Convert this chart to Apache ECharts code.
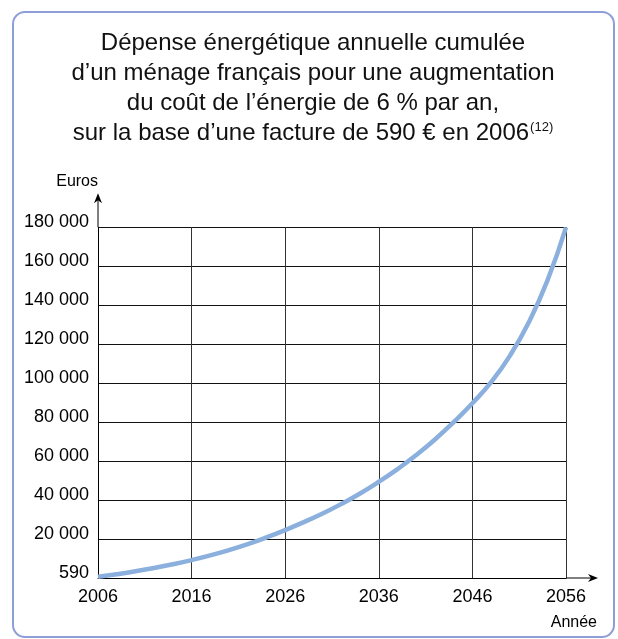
<!DOCTYPE html>
<html>
<head>
<meta charset="utf-8">
<script src="https://cdn.jsdelivr.net/npm/echarts@6/dist/echarts.min.js"></script>
<style>
  html, body { margin: 0; padding: 0; background: #fff; }
  #chart { width: 618px; height: 639px; }
</style>
</head>
<body>
<div id="chart"></div>
<script>
// Cumulative yearly energy spending of a household (euros)
const years = [2006, 2008, 2010, 2012, 2014, 2016, 2018, 2020, 2022, 2024, 2026,
               2028, 2030, 2032, 2034, 2036, 2038, 2040, 2042, 2044, 2046,
               2048, 2050, 2052, 2054, 2056];
const cumulative = [590, 1940, 3450, 5150, 7060, 9200, 11600, 14300, 17350, 20800, 24600,
                    28700, 33100, 38000, 43400, 49400, 55900, 63100, 71100, 80000, 89700,
                    100500, 114000, 131000, 152500, 180000];

const yTickLabels = ['590', '20 000', '40 000', '60 000', '80 000', '100 000',
                     '120 000', '140 000', '160 000', '180 000'];
const xTickLabels = ['2006', '2016', '2026', '2036', '2046', '2056'];

const titleLines = [
  'Dépense énergétique annuelle cumulée',
  'd’un ménage français pour une augmentation',
  'du coût de l’énergie de 6 % par an,',
  'sur la base d’une facture de 590 € en 2006{sup|(12)}'
];

const FONT = '"Liberation Sans", Arial, Helvetica, sans-serif';

const chart = echarts.init(document.getElementById('chart'), null, { renderer: 'canvas' });

const option = {
  backgroundColor: '#ffffff',
  animation: false,
  grid: { left: 98, right: 52, top: 227.3, bottom: 61, show: false },
  xAxis: {
    type: 'value',
    min: 2006,
    max: 2056,
    interval: 10,
    axisLine: { show: true, lineStyle: { color: '#000', width: 1 } },
    axisTick: { show: false },
    splitLine: { show: true, lineStyle: { color: '#333', width: 1 } },
    axisLabel: {
      margin: 10,
      fontFamily: FONT,
      fontSize: 18,
      color: '#000',
      formatter: (v) => xTickLabels[Math.round((v - 2006) / 10)]
    }
  },
  yAxis: {
    type: 'value',
    min: 0,
    max: 180000,
    interval: 20000,
    name: 'Euros',
    nameLocation: 'end',
    nameGap: 38,
    nameTextStyle: { fontFamily: FONT, fontSize: 16, color: '#000', align: 'right' },
    axisLine: { show: true, lineStyle: { color: '#000', width: 1 } },
    axisTick: { show: false },
    splitLine: { show: true, lineStyle: { color: '#111', width: 1 } },
    axisLabel: {
      margin: 9,
      fontFamily: FONT,
      fontSize: 18,
      lineHeight: 10,
      color: '#000',
      verticalAlign: 'bottom',
      formatter: (v) => yTickLabels[Math.round(v / 20000)]
    }
  },
  series: [{
    type: 'line',
    data: years.map((y, i) => [y, cumulative[i]]),
    smooth: 0.5,
    symbol: 'none',
    lineStyle: { color: '#8cb0de', width: 4.5 },
    z: 5
  }]
};

chart.setOption(option);

// Decorations: rounded frame, title, axis arrows extending past the plot, axis name
const origin = chart.convertToPixel({ gridIndex: 0 }, [2006, 0]);
const topLeft = chart.convertToPixel({ gridIndex: 0 }, [2006, 180000]);
const rightEnd = chart.convertToPixel({ gridIndex: 0 }, [2056, 0]);
const yTip = topLeft[1] - 34;
const xTip = rightEnd[0] + 32;

chart.setOption({
  graphic: [
    {
      type: 'rect',
      shape: { x: 13, y: 12, width: 601, height: 625, r: 12 },
      style: { fill: 'none', stroke: '#8e9fd8', lineWidth: 2 },
      silent: true
    },
    {
      type: 'text',
      x: 313,
      y: 28,
      style: {
        text: titleLines.join('\n'),
        fontFamily: FONT,
        fontSize: 24,
        lineHeight: 30,
        fill: '#111',
        align: 'center',
        verticalAlign: 'top',
        rich: {
          sup: { fontFamily: FONT, fontSize: 13, lineHeight: 13, verticalAlign: 'top', padding: [3, 0, 0, 1], fill: '#111' }
        }
      }
    },
    {
      type: 'line',
      shape: { x1: origin[0], y1: topLeft[1], x2: origin[0], y2: yTip + 6 },
      style: { stroke: '#000', lineWidth: 1 }
    },
    {
      type: 'polygon',
      shape: { points: [[origin[0], yTip], [origin[0] - 4, yTip + 10], [origin[0], yTip + 7], [origin[0] + 4, yTip + 10]] },
      style: { fill: '#000' }
    },
    {
      type: 'line',
      shape: { x1: rightEnd[0], y1: origin[1], x2: xTip - 6, y2: origin[1] },
      style: { stroke: '#000', lineWidth: 1 }
    },
    {
      type: 'polygon',
      shape: { points: [[xTip, origin[1]], [xTip - 10, origin[1] - 4], [xTip - 7, origin[1]], [xTip - 10, origin[1] + 4]] },
      style: { fill: '#000' }
    },
    {
      type: 'text',
      x: xTip - 1,
      y: 623,
      style: { text: 'Année', fontFamily: FONT, fontSize: 16, fill: '#000', align: 'right', verticalAlign: 'middle' }
    }
  ]
});
</script>
</body>
</html>
